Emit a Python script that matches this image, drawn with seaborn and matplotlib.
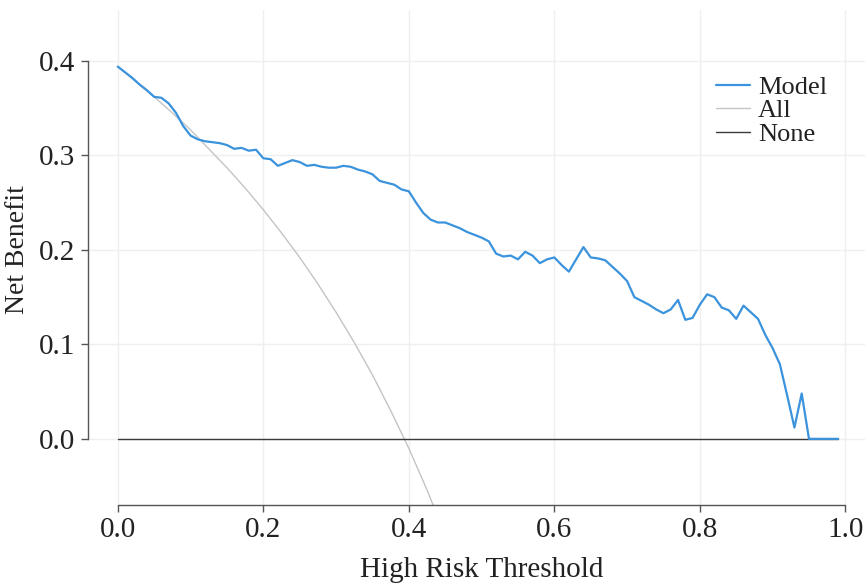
import numpy as np
import pandas as pd
import matplotlib
matplotlib.use("Agg")
import matplotlib.pyplot as plt
import seaborn as sns

# ================================
# DATA
# ================================
thresholds = [0.00, 0.01, 0.02, 0.03, 0.04, 0.05, 0.06, 0.07, 0.08, 0.09,
              0.10, 0.11, 0.12, 0.13, 0.14, 0.15, 0.16, 0.17, 0.18, 0.19,
              0.20, 0.21, 0.22, 0.23, 0.24, 0.25, 0.26, 0.27, 0.28, 0.29,
              0.30, 0.31, 0.32, 0.33, 0.34, 0.35, 0.36, 0.37, 0.38, 0.39,
              0.40, 0.41, 0.42, 0.43, 0.44, 0.45, 0.46, 0.47, 0.48, 0.49,
              0.50, 0.51, 0.52, 0.53, 0.54, 0.55, 0.56, 0.57, 0.58, 0.59,
              0.60, 0.61, 0.62, 0.63, 0.64, 0.65, 0.66, 0.67, 0.68, 0.69,
              0.70, 0.71, 0.72, 0.73, 0.74, 0.75, 0.76, 0.77, 0.78, 0.79,
              0.80, 0.81, 0.82, 0.83, 0.84, 0.85, 0.86, 0.87, 0.88, 0.89,
              0.90, 0.91, 0.92, 0.93, 0.94, 0.95, 0.96, 0.97, 0.98, 0.99]
model_nb = [0.394, 0.388, 0.382, 0.375, 0.369, 0.362, 0.361, 0.355, 0.345, 0.331,
            0.321, 0.317, 0.315, 0.314, 0.313, 0.311, 0.307, 0.308, 0.305, 0.306,
            0.297, 0.296, 0.289, 0.292, 0.295, 0.293, 0.289, 0.290, 0.288, 0.287,
            0.287, 0.289, 0.288, 0.285, 0.283, 0.280, 0.273, 0.271, 0.269, 0.264,
            0.262, 0.250, 0.239, 0.232, 0.229, 0.229, 0.226, 0.223, 0.219, 0.216,
            0.213, 0.209, 0.196, 0.193, 0.194, 0.190, 0.198, 0.194, 0.186, 0.190,
            0.192, 0.184, 0.177, 0.190, 0.203, 0.192, 0.191, 0.189, 0.182, 0.175,
            0.167, 0.150, 0.146, 0.142, 0.137, 0.133, 0.137, 0.147, 0.126, 0.128,
            0.142, 0.153, 0.150, 0.139, 0.136, 0.127, 0.141, 0.134, 0.127, 0.110,
            0.096, 0.079, 0.046, 0.012, 0.048, 0.000, 0.000, 0.000, 0.000, 0.000]

all_thr = [0.000, 0.025, 0.050, 0.075, 0.100, 0.125, 0.150, 0.175, 0.200, 0.225,
           0.250, 0.275, 0.300, 0.325, 0.350, 0.375, 0.400, 0.425, 0.450]
all_nb = [0.394, 0.378, 0.362, 0.345, 0.327, 0.307, 0.287, 0.2655, 0.2425, 0.218,
          0.192, 0.164, 0.134, 0.102, 0.0677, 0.030, -0.010, -0.054, -0.102]

none_thr = [0.00, 0.99]
none_nb = [0.0, 0.0]

x_ticks = [0.0, 0.2, 0.4, 0.6, 0.8, 1.0]
y_ticks = [0.0, 0.1, 0.2, 0.3, 0.4]

# ================================
# STYLE
# ================================
sns.set_theme(style="whitegrid")
plt.rcParams["font.family"] = ["Liberation Serif", "DejaVu Serif"]
plt.rcParams["grid.color"] = "#efefef"
plt.rcParams["grid.linewidth"] = 1.0

fig = plt.figure(figsize=(8.65, 5.84), dpi=100)
ax = fig.add_axes([0.1017, 0.1353, 0.8983, 0.8477])

sns.lineplot(x=all_thr, y=all_nb, ax=ax, color="#c4c4c4", linewidth=1.0, label="All")
sns.lineplot(x=none_thr, y=none_nb, ax=ax, color="#3a3a3a", linewidth=1.0, label="None")
sns.lineplot(x=thresholds, y=model_nb, ax=ax, color="#3a93dc", linewidth=1.6, label="Model")

xmin, xmax = -0.041, 1.027
ymin, ymax = -0.07, 0.454
ax.set_xlim(xmin, xmax)
ax.set_ylim(ymin, ymax)
ax.set_xticks(x_ticks)
ax.set_yticks(y_ticks)
ax.set_xticklabels([f"{v:.1f}" for v in x_ticks])
ax.set_yticklabels([f"{v:.1f}" for v in y_ticks])

for side in ["top", "right"]:
    ax.spines[side].set_visible(False)
for side in ["left", "bottom"]:
    ax.spines[side].set_color("#555555")
    ax.spines[side].set_linewidth(1.0)
ax.spines["left"].set_bounds(0.0, 0.4)
ax.spines["bottom"].set_bounds(0.0, 1.0)

ax.tick_params(axis="both", which="major", labelsize=21, colors="#555555",
               labelcolor="#222222", length=5, width=1, direction="out",
               left=True, bottom=True, pad=4)

ax.set_xlabel("High Risk Threshold", fontsize=21, color="#222222")
ax.set_ylabel("Net Benefit", fontsize=20, color="#222222")
ax.xaxis.set_label_coords((0.5 - xmin) / (xmax - xmin), -0.106)
ax.yaxis.set_label_coords(-0.075, (0.2 - ymin) / (ymax - ymin))

handles, labels = ax.get_legend_handles_labels()
order = [labels.index(n) for n in ["Model", "All", "None"]]
leg = ax.legend([handles[i] for i in order], [labels[i] for i in order],
                loc="upper right", bbox_to_anchor=(0.975, 0.905), frameon=False,
                fontsize=19, handlelength=1.3, handletextpad=0.3,
                labelspacing=0.0, borderpad=0.2)
for t in leg.get_texts():
    t.set_color("#222222")

plt.savefig("out.png", dpi=100)
